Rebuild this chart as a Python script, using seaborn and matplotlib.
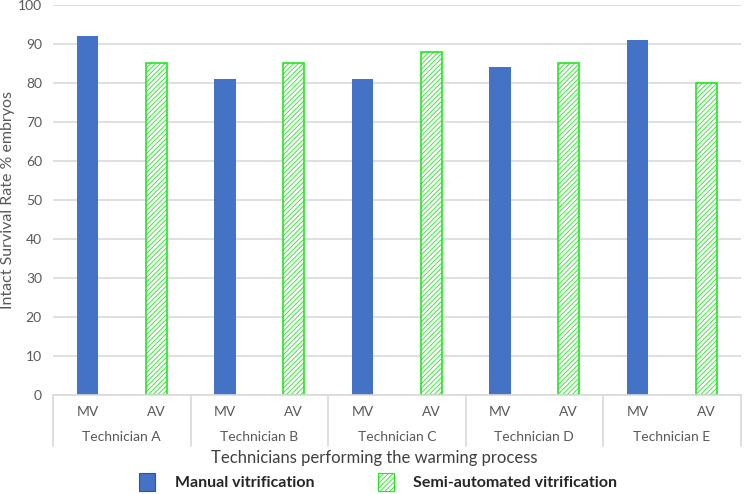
import matplotlib
matplotlib.use("Agg")
import matplotlib.pyplot as plt
import matplotlib.patches as mpatches
import matplotlib.transforms as mtrans
import seaborn as sns
import pandas as pd

technicians = ["Technician A", "Technician B", "Technician C", "Technician D", "Technician E"]
methods = ["MV", "AV"]
mv_values = [92, 81, 81, 84, 91]
av_values = [85, 85, 88, 85, 80]
legend_labels = ["Manual vitrification", "Semi-automated vitrification"]
y_label = "Intact Survival Rate % embryos"
x_label = "Technicians performing the warming process"

rows = []
for t, mv, av in zip(technicians, mv_values, av_values):
    rows.append({"key": f"{t}|MV", "tech": t, "method": "MV", "value": mv})
    rows.append({"key": f"{t}|AV", "tech": t, "method": "AV", "value": av})
df = pd.DataFrame(rows)

sns.set_theme(style="white")
plt.rcParams["font.family"] = ["Lato", "DejaVu Sans"]
plt.rcParams["hatch.linewidth"] = 0.6

BLUE = "#4472C4"
GREEN = "#22E622"
GRAY_TXT = "#595959"
GRID = "#D9D9D9"
HATCH = "///////"

fig = plt.figure(figsize=(7.49, 4.94), dpi=100)
ax = fig.add_axes([0.0708, 0.2004, 0.918, 0.7896])

sns.barplot(data=df, x="key", y="value", hue="method", order=list(df["key"]),
            hue_order=methods, palette={"MV": BLUE, "AV": "white"},
            dodge=False, width=0.31, legend=False, ax=ax, saturation=1)

# style AV bars as hatched green
for c, m in zip(ax.containers, methods):
    for bar in c:
        if m == "AV":
            bar.set_facecolor("white")
            bar.set_edgecolor(GREEN)
            bar.set_hatch(HATCH)
            bar.set_linewidth(1.2)
        else:
            bar.set_edgecolor(BLUE)
            bar.set_linewidth(0)

ax.set_ylim(0, 100)
ax.set_xlim(-0.5, len(df) - 0.5)
ax.set_yticks(range(0, 101, 10))
ax.yaxis.grid(True, color=GRID, linewidth=1.2)
ax.set_axisbelow(True)
for s in ["top", "right", "left"]:
    ax.spines[s].set_visible(False)
ax.spines["bottom"].set_color(GRID)
ax.spines["bottom"].set_linewidth(1.2)

ax.tick_params(axis="y", length=0, labelsize=10, labelcolor=GRAY_TXT, pad=8)
ax.tick_params(axis="x", length=0, labelsize=10, labelcolor=GRAY_TXT, pad=8)
ax.set_xticks(range(len(df)))
ax.set_xticklabels(list(df["method"]))
ax.set_xlabel("")
ax.set_ylabel(y_label, fontsize=11.5, color=GRAY_TXT, labelpad=2)

trans = mtrans.blended_transform_factory(ax.transData, ax.transAxes)
for i, t in enumerate(technicians):
    ax.text(2 * i + 0.5, -0.108, t, transform=trans, ha="center", va="center",
            fontsize=10, color=GRAY_TXT)
for b in range(len(technicians) + 1):
    xb = 2 * b - 0.5
    ax.plot([xb, xb], [0, -0.13], transform=trans, color=GRID, linewidth=1.2,
            clip_on=False)

fig.text(0.5, 1 - 458 / 494, x_label, ha="center", va="center", fontsize=12, color="#404040")

handles = [mpatches.Patch(facecolor=BLUE, edgecolor="#2F5597", linewidth=0.8),
           mpatches.Patch(facecolor="white", edgecolor=GREEN, hatch=HATCH, linewidth=0.8)]
leg = fig.legend(handles, legend_labels, loc="center", bbox_to_anchor=(0.505, 1 - 482 / 494),
                 ncol=2, frameon=False, prop={"weight": "bold", "size": 11.5},
                 handlelength=1.0, handleheight=1.3, columnspacing=4.0, handletextpad=1.2)

fig.savefig("out.png", dpi=100)
